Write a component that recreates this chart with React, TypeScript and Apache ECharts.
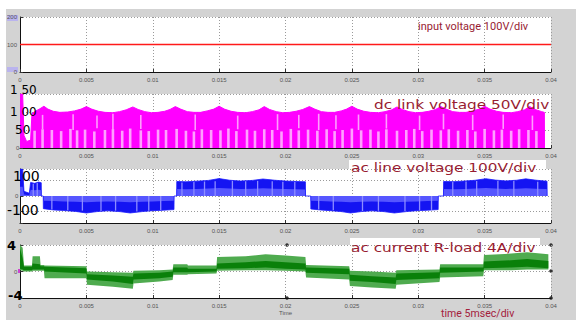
import { useEffect, useRef } from "react";
import * as echarts from "echarts";

// ---------- shared x axis ----------
const xTickLabels = ["0", "0.005", "0.01", "0.015", "0.02", "0.025", "0.03", "0.035", "0.04"];

// ---------- panel 1 : input voltage ----------
const inT = [0, 0.04];
const inV = [100, 100];
const inYTicks = [0, 100, 200];
const inYText = ["0", "100", "200"];

// ---------- panel 2 : dc link voltage (upper envelope) ----------
const dcT = [0, 0.0002, 0.0003, 0.0005, 0.0008, 0.0009, 0.0012, 0.0015, 0.0018, 0.0021, 0.0025, 0.003, 0.0036, 0.0041, 0.0046, 0.005, 0.0054, 0.0059, 0.0064, 0.007, 0.0075, 0.008, 0.0085, 0.0089, 0.0094, 0.0099, 0.0104, 0.0109, 0.0113, 0.0117, 0.0121, 0.0126, 0.0131, 0.0136, 0.0141, 0.0146, 0.015, 0.0154, 0.0159, 0.0164, 0.017, 0.0175, 0.018, 0.0184, 0.0188, 0.0193, 0.0198, 0.0203, 0.0208, 0.0213, 0.0218, 0.0222, 0.0227, 0.0232, 0.0237, 0.0242, 0.0246, 0.025, 0.0254, 0.0259, 0.0264, 0.027, 0.0275, 0.028, 0.0284, 0.0288, 0.0293, 0.0298, 0.0303, 0.0308, 0.0313, 0.0317, 0.0321, 0.0326, 0.0331, 0.0336, 0.0341, 0.0346, 0.035, 0.0354, 0.0359, 0.0364, 0.037, 0.0375, 0.038, 0.0384, 0.0388, 0.0393, 0.0395, 0.03951];
const dcV = [150, 150, 35, 18, 22, 96, 103, 109, 116, 108, 102, 99, 100, 103, 108, 115, 108, 102, 99, 98, 101, 106, 114, 107, 101, 98, 99, 102, 107, 115, 108, 101, 99, 99, 103, 108, 116, 108, 102, 99, 98, 101, 106, 115, 107, 101, 98, 99, 102, 107, 115, 108, 101, 99, 99, 103, 108, 116, 108, 102, 99, 98, 101, 106, 114, 107, 101, 98, 99, 102, 107, 115, 108, 101, 99, 99, 103, 108, 116, 108, 102, 99, 98, 101, 106, 115, 107, 101, 99, 0];
// pale PWM streaks in the lower half
const dcLowT = [0.0011, 0.0017, 0.0024, 0.0031, 0.0038, 0.0043, 0.0049, 0.0056, 0.0064, 0.007, 0.0077, 0.0083, 0.0091, 0.0097, 0.0104, 0.011, 0.0118, 0.0125, 0.0131, 0.0137, 0.0144, 0.0151, 0.0157, 0.0163, 0.0171, 0.0177, 0.0184, 0.019, 0.0197, 0.0204, 0.021, 0.0217, 0.0224, 0.0231, 0.0237, 0.0243, 0.025, 0.0257, 0.0264, 0.027, 0.0276, 0.0284, 0.0291, 0.0297, 0.0303, 0.031, 0.0317, 0.0323, 0.033, 0.0337, 0.0343, 0.035, 0.0357, 0.0363, 0.037, 0.0376, 0.0383, 0.0389];
const dcLowHi = [48, 52, 50, 47, 53, 49, 51, 46, 50, 52, 48, 54, 49, 47, 51, 50, 53, 48, 46, 52, 50, 49, 54, 47, 51, 48, 52, 50, 46, 53, 49, 51, 48, 52, 47, 50, 54, 49, 51, 46, 52, 48, 50, 53, 47, 51, 49, 52, 48, 50, 46, 53, 49, 51, 48, 52, 50, 47];
// pale streaks reaching the upper band
const dcUpT = [0.0017, 0.004, 0.0058, 0.007, 0.0091, 0.0132, 0.0164, 0.0194, 0.021, 0.0225, 0.0238, 0.0255, 0.0276, 0.0301, 0.0319, 0.0341, 0.0364, 0.0386];
const dcUpLo = [52, 50, 55, 50, 53, 50, 52, 50, 55, 50, 52, 50, 54, 50, 52, 50, 53, 50];
const dcUpHi = [92, 94, 90, 95, 92, 93, 90, 94, 92, 95, 91, 93, 94, 90, 95, 92, 93, 90];
const dcYTicks = [0, 50, 100, 150];
const dcYText = ["0", "50", "1 00", "1 50"];

// ---------- panel 3 : ac line voltage ----------
const acT = [0, 0.0002, 0.0003, 0.0007, 0.0008, 0.0011, 0.0014, 0.0016, 0.00161,
  0.00175, 0.00176, 0.0025, 0.0033, 0.0042, 0.005, 0.0058, 0.0066, 0.0075, 0.0083, 0.0092, 0.01, 0.0108, 0.0116, 0.01161,
  0.0118, 0.01181, 0.0125, 0.0133, 0.0142, 0.015, 0.0158, 0.0166, 0.0175, 0.0183, 0.0192, 0.02, 0.0208, 0.0215, 0.02151,
  0.0219, 0.02191, 0.0226, 0.0234, 0.0242, 0.0249, 0.0257, 0.0265, 0.0274, 0.0282, 0.0291, 0.0299, 0.0307, 0.0315, 0.03151,
  0.0319, 0.03191, 0.0327, 0.0335, 0.0343, 0.0351, 0.0358, 0.0366, 0.0374, 0.0381, 0.0389, 0.0397, 0.03971];
const acOuter = [175, 175, 30, 18, 88, 82, 90, 86, 0,
  0, -82, -90, -94, -100, -110, -101, -96, -101, -110, -101, -95, -92, -88, 0,
  0, 94, 92, 96, 101, 113, 102, 97, 101, 110, 102, 97, 94, 92, 0,
  0, -84, -90, -95, -101, -110, -101, -96, -101, -110, -101, -95, -92, -88, 0,
  0, 94, 93, 97, 102, 112, 103, 98, 102, 111, 102, 96, 0];
const acInner = [60, 60, 10, 5, 40, 38, 40, 38, 0,
  0, -30, -33, -35, -37, -40, -38, -35, -37, -40, -38, -35, -33, -30, 0,
  0, 45, 44, 46, 48, 52, 48, 46, 47, 50, 47, 45, 44, 42, 0,
  0, -30, -33, -35, -37, -40, -38, -35, -37, -40, -38, -35, -33, -30, 0,
  0, 45, 44, 46, 48, 52, 48, 46, 47, 50, 47, 45, 0];
const acPaleT = [0.001, 0.0013, 0.0024, 0.0036, 0.0047, 0.0061, 0.0072, 0.0088, 0.0097, 0.0106, 0.0122, 0.0131, 0.0139, 0.0147, 0.016, 0.017, 0.0179, 0.019, 0.0198, 0.0207, 0.0225, 0.0236, 0.0258, 0.027, 0.029, 0.0301, 0.031, 0.0326, 0.0336, 0.0344, 0.036, 0.0372, 0.039];
const acPaleLo = [0, 0, -88, -92, -95, -97, -95, -100, -96, -90, 0, 0, 0, 0, 0, 0, 0, 0, 0, 0, -88, -93, -98, -96, -99, -94, -90, 0, 0, 0, 0, 0, 0];
const acPaleHi = [80, 85, 0, 0, 0, 0, 0, 0, 0, 0, 88, 90, 94, 96, 98, 95, 98, 96, 93, 90, 0, 0, 0, 0, 0, 0, 0, 90, 94, 98, 99, 98, 92];
const acYTicks = [-100, 0, 100];
const acYText = ["-100", "0", "100"];

// ---------- panel 4 : ac current ----------
const cuT = [0, 0.0002, 0.0003, 0.0009, 0.00095, 0.0015, 0.00155, 0.0018, 0.00185, 0.005, 0.00505, 0.007, 0.0085, 0.00855, 0.0105, 0.0115, 0.01155, 0.0126, 0.01265, 0.0148, 0.01485, 0.017, 0.0185, 0.02, 0.0215, 0.02155, 0.0248, 0.02485, 0.0265, 0.0283, 0.02835, 0.0316, 0.03165, 0.0349, 0.03495, 0.037, 0.0382, 0.0398];
const cuHi = [4.0, 3.6, 0.9, 0.9, 2.3, 2.3, 1.0, 1.0, 0.9, 0.8, 0.0, -0.1, -0.2, 0.1, 0.2, 0.3, 1.1, 1.1, 0.9, 0.9, 2.2, 2.3, 2.6, 2.4, 2.2, 1.0, 0.8, 0.1, 0.0, -0.2, 0.2, 0.3, 1.1, 1.1, 2.5, 2.7, 2.9, 2.6];
const cuLo = [0.2, 0.1, 0.0, 0.0, 0.1, 0.1, 0.1, 0.1, -1.0, -1.0, -2.0, -2.3, -2.6, -1.8, -1.5, -1.3, -0.5, -0.5, -0.4, -0.3, 0.1, 0.2, 0.2, 0.1, 0.0, -0.9, -1.2, -2.2, -2.4, -2.6, -2.0, -1.6, -0.9, -0.7, 0.2, 0.2, 0.3, 0.3];
const cuDarkHi = [3.5, 2.0, 0.7, 0.7, 1.2, 1.1, 0.8, 0.8, 0.7, 0.5, -0.4, -0.6, -0.8, -0.3, -0.2, 0.0, 0.6, 0.6, 0.4, 0.4, 1.2, 1.4, 1.6, 1.4, 1.2, 0.6, 0.4, -0.5, -0.7, -0.9, -0.3, -0.1, 0.6, 0.6, 1.5, 1.7, 1.9, 1.6];
const cuDarkLo = [0.4, 0.3, 0.2, 0.2, 0.3, 0.3, 0.3, 0.3, 0.0, -0.3, -1.2, -1.5, -1.9, -1.2, -1.0, -0.8, -0.1, -0.1, -0.1, 0.0, 0.4, 0.5, 0.6, 0.4, 0.3, -0.2, -0.4, -1.4, -1.6, -1.9, -1.3, -1.0, -0.2, 0.0, 0.5, 0.6, 0.7, 0.5];
const cuYTicks = [-4, 0, 4];
const cuYText = ["-4", "0", "4"];

// ---------- annotations ----------
const titles = {
  input: "input voltage 100V/div",
  dc: "dc link voltage 50V/div",
  ac: "ac line voltage 100V/div",
  cur: "ac current R-load 4A/div",
  time: "time 5msec/div",
};

const BIG = "DejaVu Sans, sans-serif";
const SMALL = "Liberation Sans, Arial, sans-serif";
const RED = "#981c32";
const GRIDLINE = { show: true, lineStyle: { color: "#9a9a9a", type: [1, 2], width: 1 } };

function xAxisFor(gi: number, extra: any = {}) {
  return {
    type: "value",
    gridIndex: gi,
    min: 0,
    max: 0.04,
    interval: 0.005,
    axisLine: { show: true, onZero: false, lineStyle: { color: "#111", width: 1 } },
    axisTick: { show: true, inside: true, length: 3, lineStyle: { color: "#333" } },
    axisLabel: {
      fontSize: 6,
      fontFamily: SMALL,
      color: "#555",
      margin: 5,
      formatter: (v: number) => xTickLabels[Math.round(v / 0.005)] ?? "",
    },
    splitLine: GRIDLINE,
    ...extra,
  };
}

// axis that carries the lines, ticks and grid (no labels)
function baseY(gi: number, min: number, max: number, extra: any = {}) {
  return {
    type: "value", gridIndex: gi, min, max, position: "left",
    axisLine: { show: true, onZero: false, lineStyle: { color: "#111" } },
    axisTick: { show: true, inside: true, length: 3, lineStyle: { color: "#333" } },
    axisLabel: { show: false },
    splitLine: GRIDLINE,
    ...extra,
  };
}

// overlay axis that only draws the (hand-annotated) labels above the traces
function labelY(gi: number, min: number, max: number, axisLabel: any, extra: any = {}) {
  return {
    type: "value", gridIndex: gi, min, max, z: 20, position: "left", offset: 0,
    axisLine: { show: false, onZero: false },
    axisTick: { show: false },
    splitLine: { show: false },
    axisLabel,
    ...extra,
  };
}

function stripes(gi: number, t: number[], lo: number[], hi: number[], color: string, w: number) {
  return {
    type: "custom",
    xAxisIndex: gi,
    yAxisIndex: gi,
    silent: true,
    clip: true,
    z: 5,
    data: t.map((v, i) => [v, hi[i]]),
    renderItem: (params: any, api: any) => {
      const i = params.dataIndex;
      const a = api.coord([t[i], lo[i]]);
      const b = api.coord([t[i], hi[i]]);
      return {
        type: "rect",
        shape: { x: a[0] - w / 2, y: Math.min(a[1], b[1]), width: w, height: Math.abs(a[1] - b[1]) },
        style: { fill: color },
      };
    },
  };
}

function band(gi: number, t: number[], hi: number[], lo: number[], color: string) {
  return {
    type: "custom",
    xAxisIndex: gi,
    yAxisIndex: gi,
    silent: true,
    clip: true,
    data: [[t[0], hi[0]]],
    renderItem: (_p: any, api: any) => {
      const pts: number[][] = [];
      for (let i = 0; i < t.length; i++) pts.push(api.coord([t[i], hi[i]]));
      for (let i = t.length - 1; i >= 0; i--) pts.push(api.coord([t[i], lo[i]]));
      return { type: "polygon", shape: { points: pts }, style: { fill: color } };
    },
  };
}

function labelFrom(ticks: number[], texts: string[], styles: string[]) {
  return (v: number) => {
    const i = ticks.indexOf(Math.round(v * 1000) / 1000);
    if (i < 0) return "";
    return `{${styles[i]}|${texts[i]}}`;
  };
}

export default function App() {
  const ref = useRef<HTMLDivElement>(null);
  useEffect(() => {
    if (!ref.current) return;
    const chart = echarts.init(ref.current, undefined, { renderer: "svg" });
    const gridBase = {
      left: 20, width: 531, show: true, backgroundColor: "#ffffff", borderWidth: 0,
      containLabel: false, outerBoundsMode: "none",
    };
    const smallTxt = { fontSize: 6, fontFamily: SMALL, color: "#555" };
    const option: any = {
      animation: false,
      backgroundColor: "transparent",
      grid: [
        { ...gridBase, top: 17, height: 55 },
        { ...gridBase, top: 94, height: 54 },
        { ...gridBase, top: 169, height: 54 },
        { ...gridBase, top: 245, height: 53 },
      ],
      xAxis: [
        xAxisFor(0),
        xAxisFor(1),
        xAxisFor(2),
        xAxisFor(3, {
          name: "Time",
          nameLocation: "middle",
          nameGap: 12,
          nameTextStyle: { fontSize: 6, fontFamily: SMALL, color: "#555" },
        }),
      ],
      yAxis: [
        baseY(0, 0, 200, {
          interval: 100,
          axisLabel: {
            margin: 3, align: "right",
            formatter: labelFrom(inYTicks, inYText, ["s", "s", "s"]),
            rich: { s: smallTxt },
          },
        }),
        baseY(1, 0, 150, { interval: 50 }),
        baseY(2, -175, 175, {
          axisTick: { show: true, inside: true, length: 3, lineStyle: { color: "#333" }, customValues: [-175, -100, 0, 100, 175] },
        }),
        baseY(3, -4, 4, { interval: 4 }),
        // label overlays
        labelY(1, 0, 150, {
          margin: 10, align: "left",
          formatter: labelFrom(dcYTicks, dcYText, ["s", "m", "b", "t"]),
          rich: {
            s: { ...smallTxt, padding: [0, 0, 0, 6] },
            m: { fontSize: 12, fontFamily: BIG, color: "#000", padding: [0, 0, 0, 5] },
            b: { fontSize: 12, fontFamily: BIG, color: "#000" },
            t: { fontSize: 12, fontFamily: BIG, color: "#000", padding: [0, 0, 8, 0] },
          },
        }, { interval: 50 }),
        labelY(2, -175, 175, {
          margin: 13, align: "left",
          customValues: acYTicks,
          formatter: labelFrom(acYTicks, acYText, ["n", "s", "p"]),
          rich: {
            s: { ...smallTxt, padding: [0, 0, 0, 8] },
            n: { fontSize: 14, fontFamily: BIG, color: "#000", padding: [0, 0, 3, 0] },
            p: { fontSize: 14, fontFamily: BIG, color: "#000", padding: [0, 0, 10, 6] },
          },
        }),
        labelY(3, -4, 4, {
          margin: 13, align: "left",
          formatter: labelFrom(cuYTicks, cuYText, ["n", "s", "b"]),
          rich: {
            s: { ...smallTxt, padding: [0, 0, 0, 7] },
            n: { fontSize: 13, fontWeight: "bold", fontFamily: BIG, color: "#000", padding: [0, 0, 5, 1] },
            b: { fontSize: 13, fontWeight: "bold", fontFamily: BIG, color: "#000" },
          },
        }, { interval: 4 }),
      ],
      series: [
        {
          type: "line", xAxisIndex: 0, yAxisIndex: 0, silent: true, showSymbol: false,
          data: inT.map((t, i) => [t, inV[i]]),
          lineStyle: { color: "#ff1a1a", width: 1.6 },
        },
        {
          type: "line", xAxisIndex: 1, yAxisIndex: 1, silent: true, showSymbol: false,
          data: dcT.map((t, i) => [t, dcV[i]]),
          lineStyle: { color: "#ff00ff", width: 1 },
          areaStyle: { color: "#ff00ff", opacity: 1 },
        },
        stripes(1, dcLowT, dcLowT.map(() => 0), dcLowHi, "#ffa0ff", 2.6),
        stripes(1, dcUpT, dcUpLo, dcUpHi, "#ff9cff", 1.6),
        {
          type: "line", xAxisIndex: 2, yAxisIndex: 2, silent: true, showSymbol: false,
          data: acT.map((t, i) => [t, acOuter[i]]),
          lineStyle: { color: "#1a1aff", width: 0.8 },
          areaStyle: { color: "#1414f2", opacity: 1 },
        },
        {
          type: "line", xAxisIndex: 2, yAxisIndex: 2, silent: true, showSymbol: false,
          data: acT.map((t, i) => [t, acInner[i]]),
          lineStyle: { width: 0 },
          areaStyle: { color: "#5656ff", opacity: 1 },
        },
        stripes(2, acPaleT, acPaleLo, acPaleHi, "#8d8dff", 1.3),
        band(3, cuT, cuHi, cuLo, "#4fab4f"),
        band(3, cuT, cuDarkHi, cuDarkLo, "#0a800a"),
      ],
      graphic: [
        { type: "rect", shape: { x: 7, y: 15, width: 11, height: 6 }, style: { fill: "#bab4ee" } },
        { type: "rect", shape: { x: 7, y: 67, width: 11, height: 5 }, style: { fill: "#bab4ee" } },
        { type: "rect", shape: { x: 18, y: 269, width: 3, height: 4 }, style: { fill: "#d040d0" } },
        { type: "rect", shape: { x: 349, y: 160, width: 197, height: 9 }, style: { fill: "#ffffff" } },
        { type: "rect", shape: { x: 350, y: 238, width: 190, height: 7 }, style: { fill: "#ffffff" } },
        { type: "circle", shape: { cx: 287, cy: 245, r: 1.8 }, style: { fill: "#333" } },
        { type: "circle", shape: { cx: 287, cy: 298, r: 1.8 }, style: { fill: "#333" } },
        { type: "circle", shape: { cx: 551, cy: 245, r: 1.8 }, style: { fill: "#333" } },
        { type: "circle", shape: { cx: 551, cy: 271, r: 1.8 }, style: { fill: "#333" } },
        { type: "circle", shape: { cx: 551, cy: 298, r: 1.8 }, style: { fill: "#333" } },
        {
          type: "text", x: 418, y: 26, z: 10,
          style: { text: titles.input, fill: RED, fontSize: 11, fontFamily: "Roboto, sans-serif", verticalAlign: "middle" },
        },
        {
          type: "text", x: 374, y: 104, z: 10, scaleX: 1.18,
          style: { text: titles.dc, fill: RED, fontSize: 13, fontFamily: BIG, verticalAlign: "middle" },
        },
        {
          type: "text", x: 351, y: 167, z: 10, scaleX: 1.18,
          style: { text: titles.ac, fill: RED, fontSize: 13, fontFamily: BIG, verticalAlign: "middle" },
        },
        {
          type: "text", x: 351, y: 247, z: 10, scaleX: 1.18,
          style: { text: titles.cur, fill: RED, fontSize: 13, fontFamily: BIG, verticalAlign: "middle" },
        },
        {
          type: "text", x: 441, y: 313.5, z: 10, scaleX: 0.92,
          style: { text: titles.time, fill: "#a4203c", fontSize: 11.5, fontFamily: "Roboto, sans-serif", verticalAlign: "middle" },
        },
      ],
    };
    chart.setOption(option);
    return () => chart.dispose();
  }, []);
  return (
    <div style={{ position: "fixed", left: 0, top: 0, width: 576, height: 320, background: "#ffffff" }}>
      <div style={{ position: "absolute", left: 6, top: 9, right: 0, bottom: 0, background: "#d3d3d3" }} />
      <div ref={ref} style={{ position: "absolute", left: 0, top: 0, width: 576, height: 320 }} />
    </div>
  );
}
